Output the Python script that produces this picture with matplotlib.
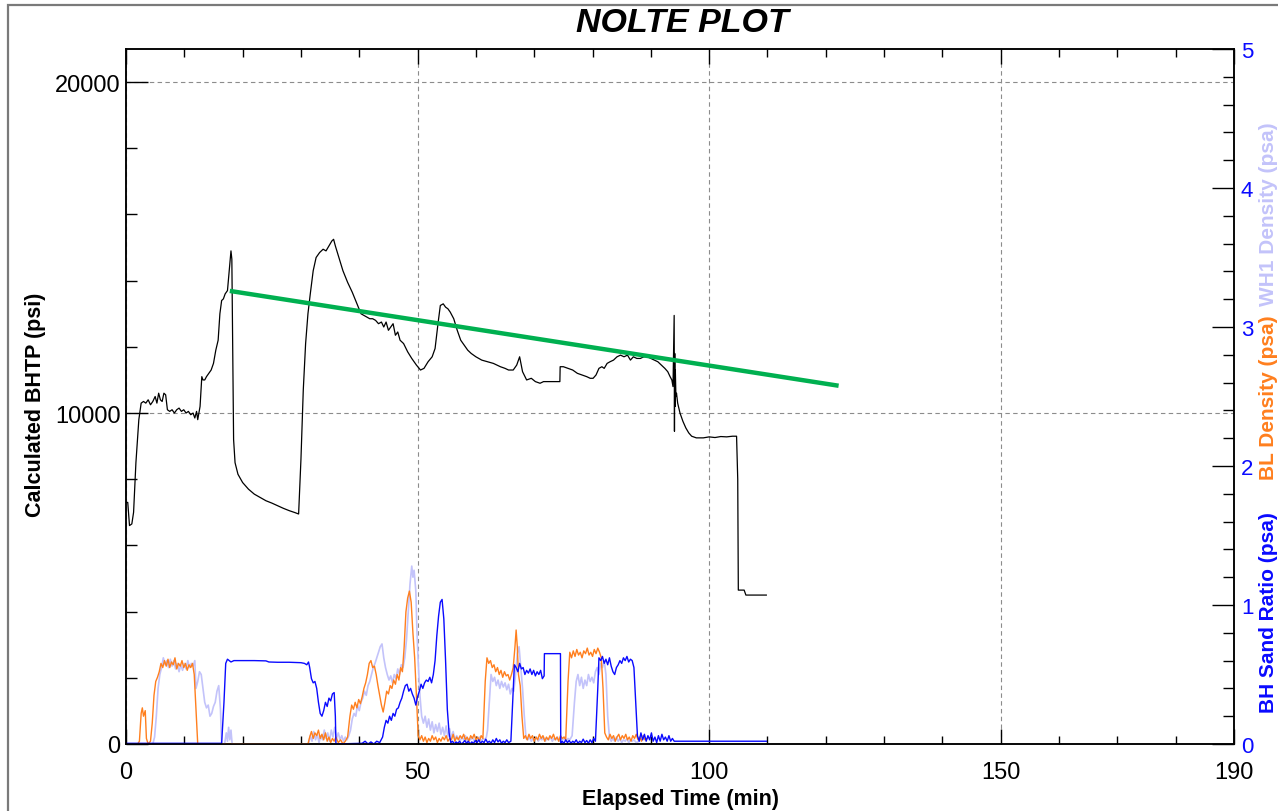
import matplotlib
matplotlib.use("Agg")
import matplotlib.pyplot as plt
from matplotlib.patches import Rectangle
from matplotlib.ticker import MultipleLocator, FixedLocator

plt.rcParams['font.family'] = ['Liberation Sans', 'DejaVu Sans']

# ---- data -------------------------------------------------------------
# Calculated bottom-hole treating pressure (min, psi)
bhtp = [
    (0.0, 7300), (0.3, 7300), (0.6, 6600), (1.0, 6650), (1.3, 7000), (1.7, 8500),
    (2.2, 9800), (2.6, 10300), (3.0, 10350), (3.4, 10300), (3.8, 10400), (4.2, 10250),
    (4.6, 10350), (5.0, 10500), (5.3, 10300), (5.6, 10600), (5.9, 10400), (6.2, 10350),
    (6.5, 10600), (6.8, 10550), (7.1, 10100), (7.5, 10050), (7.9, 10100), (8.3, 10000),
    (8.7, 10100), (9.1, 10150), (9.5, 10050), (9.9, 10100), (10.3, 10000), (10.7, 10050),
    (11.1, 9950), (11.5, 10000), (11.8, 9850), (12.1, 10050), (12.3, 9800), (12.5, 10000),
    (12.7, 10200), (13.0, 11100), (13.2, 11000), (13.5, 11000), (13.8, 11100), (14.2, 11200),
    (14.6, 11300), (15.0, 11500), (15.4, 11900), (15.8, 12200), (16.1, 13000), (16.4, 13400),
    (16.7, 13450), (17.0, 13600), (17.4, 13700), (17.7, 14300), (18.0, 14900), (18.15, 14650),
    (18.3, 12000), (18.45, 9200), (18.7, 8500), (19.2, 8150), (20.0, 7900), (21.0, 7700),
    (22.0, 7550), (23.0, 7450), (24.0, 7350), (25.0, 7280), (26.0, 7200), (27.0, 7120),
    (28.0, 7050), (29.0, 6990), (29.6, 6950), (30.0, 8600), (30.4, 10700), (30.8, 12100),
    (31.2, 13000), (31.6, 13600), (32.1, 14300), (32.6, 14700), (33.2, 14850), (33.8, 14950),
    (34.3, 14900), (34.8, 15050), (35.3, 15200), (35.6, 15250), (35.9, 15050), (36.5, 14700),
    (37.2, 14300), (38.0, 13950), (38.8, 13650), (39.6, 13300), (40.3, 13000), (40.8, 12950),
    (41.3, 12900), (41.8, 12850), (42.3, 12850), (42.8, 12800), (43.3, 12700), (43.8, 12750),
    (44.2, 12600), (44.6, 12750), (45.0, 12500), (45.4, 12600), (45.8, 12700), (46.2, 12350),
    (46.6, 12450), (47.0, 12200), (47.6, 12100), (48.3, 11850), (49.0, 11650), (49.8, 11450),
    (50.5, 11300), (51.1, 11350), (51.8, 11550), (52.5, 11700), (53.0, 11950), (53.5, 12700),
    (53.9, 13250), (54.4, 13300), (54.8, 13200), (55.2, 13150), (55.6, 13050), (56.2, 12850),
    (56.8, 12500), (57.4, 12200), (58.0, 12050), (58.6, 11900), (59.2, 11800), (60.0, 11700),
    (61.0, 11600), (62.0, 11550), (63.0, 11500), (63.6, 11450), (64.2, 11400), (65.0, 11350),
    (65.6, 11300), (66.4, 11300), (67.0, 11450), (67.5, 11700), (68.0, 11250), (68.7, 11000),
    (69.5, 11050), (70.2, 10950), (71.0, 10900), (71.6, 10950), (72.5, 10950), (73.5, 10950),
    (74.4, 10950), (74.45, 11400), (75.0, 11400), (75.8, 11350), (76.6, 11300), (77.4, 11200),
    (78.2, 11150), (79.0, 11100), (79.6, 11050), (80.1, 11050), (80.6, 11150), (81.1, 11350),
    (81.6, 11400), (82.0, 11350), (82.5, 11500), (83.0, 11550), (83.6, 11600), (84.2, 11700),
    (84.8, 11750), (85.4, 11700), (86.0, 11750), (86.5, 11600), (87.0, 11700), (87.6, 11650),
    (88.2, 11650), (88.8, 11700), (89.4, 11700), (90.0, 11650), (90.6, 11600), (91.2, 11550),
    (91.8, 11450), (92.4, 11350), (92.9, 11250), (93.3, 11100), (93.6, 11000), (93.8, 10800),
    (94.0, 12950), (94.05, 9450), (94.1, 11800), (94.15, 10200), (94.2, 11300), (94.3, 10500),
    (94.4, 10600), (94.6, 10300), (95.0, 10000), (95.5, 9750), (96.0, 9550), (96.5, 9400),
    (97.0, 9300), (97.8, 9250), (99.0, 9250), (100.0, 9280), (101.0, 9260), (102.0, 9290),
    (103.0, 9280), (104.0, 9300), (104.7, 9300), (104.9, 8000), (105.0, 4650), (105.5, 4650),
    (106.0, 4650), (106.3, 4500), (107.0, 4500), (109.8, 4500),
]

# Nolte trend line (min, psi)
trend = [(17.8, 13690), (122.2, 10825)]

# WH1 density (min, psa)
wh1_density = [
    (0.0, 0.0), (4.6, 0.0), (4.9, 0.05), (5.2, 0.2), (5.5, 0.4), (5.8, 0.5), (6.1, 0.55),
    (6.4, 0.62), (6.7, 0.57), (7.0, 0.6), (7.3, 0.55), (7.6, 0.61), (7.9, 0.56), (8.2, 0.6),
    (8.5, 0.54), (8.8, 0.58), (9.1, 0.52), (9.4, 0.57), (9.7, 0.53), (10.0, 0.58), (10.3, 0.54),
    (10.6, 0.6), (10.9, 0.55), (11.2, 0.58), (11.5, 0.56), (11.8, 0.6), (12.0, 0.4), (12.3, 0.45),
    (12.6, 0.52), (12.9, 0.5), (13.2, 0.4), (13.5, 0.3), (13.8, 0.26), (14.1, 0.28), (14.4, 0.2),
    (14.7, 0.22), (15.0, 0.27), (15.3, 0.3), (15.6, 0.38), (15.9, 0.42), (16.2, 0.25), (16.4, 0.0),
    (16.9, 0.0), (17.2, 0.08), (17.4, 0.02), (17.6, 0.12), (17.8, 0.03), (18.0, 0.1), (18.2, 0.0),
    (31.3, 0.0), (31.6, 0.06), (31.9, 0.02), (32.2, 0.09), (32.5, 0.03), (32.8, 0.07), (33.1, 0.01),
    (33.4, 0.06), (33.7, 0.03), (34.0, 0.1), (34.3, 0.04), (34.6, 0.08), (34.9, 0.02), (35.2, 0.1),
    (35.5, 0.05), (35.8, 0.12), (36.1, 0.04), (36.4, 0.08), (36.7, 0.03), (37.0, 0.06), (37.3, 0.02),
    (37.6, 0.05), (37.9, 0.03), (38.2, 0.06), (38.5, 0.1), (38.8, 0.18), (39.1, 0.22), (39.4, 0.2),
    (39.7, 0.28), (40.0, 0.24), (40.3, 0.3), (40.6, 0.33), (40.9, 0.38), (41.2, 0.35), (41.5, 0.42),
    (41.8, 0.45), (42.1, 0.5), (42.4, 0.55), (42.7, 0.58), (43.0, 0.62), (43.3, 0.66), (43.6, 0.7),
    (43.9, 0.72), (44.2, 0.62), (44.5, 0.55), (44.8, 0.5), (45.1, 0.46), (45.4, 0.49), (45.7, 0.44),
    (46.0, 0.5), (46.3, 0.47), (46.6, 0.54), (46.9, 0.5), (47.2, 0.57), (47.5, 0.55), (47.8, 0.62),
    (48.1, 0.75), (48.4, 0.95), (48.7, 1.15), (49.0, 1.28), (49.2, 1.2), (49.4, 1.25), (49.7, 1.1),
    (49.9, 0.8), (50.1, 0.6), (50.4, 0.35), (50.7, 0.2), (51.0, 0.15), (51.3, 0.2), (51.6, 0.12),
    (51.9, 0.18), (52.2, 0.1), (52.5, 0.16), (52.8, 0.08), (53.1, 0.14), (53.4, 0.09), (53.7, 0.15),
    (54.0, 0.07), (54.3, 0.12), (54.6, 0.06), (54.9, 0.13), (55.2, 0.05), (55.5, 0.11), (55.8, 0.04),
    (56.1, 0.09), (56.4, 0.03), (56.7, 0.06), (57.0, 0.04), (57.3, 0.02), (57.6, 0.05), (57.9, 0.03),
    (58.2, 0.06), (58.5, 0.02), (58.8, 0.04), (59.1, 0.03), (59.4, 0.05), (59.7, 0.02), (60.0, 0.04),
    (60.3, 0.03), (60.6, 0.05), (60.9, 0.02), (61.2, 0.04), (61.5, 0.03), (61.8, 0.05), (62.0, 0.1),
    (62.3, 0.3), (62.6, 0.5), (62.9, 0.45), (63.2, 0.48), (63.5, 0.42), (63.8, 0.46), (64.1, 0.4),
    (64.4, 0.45), (64.7, 0.41), (65.0, 0.44), (65.3, 0.39), (65.6, 0.43), (65.9, 0.36), (66.2, 0.4),
    (66.5, 0.38), (66.8, 0.5), (67.1, 0.65), (67.4, 0.7), (67.7, 0.55), (68.0, 0.4), (68.3, 0.2),
    (68.6, 0.04), (68.9, 0.03), (69.2, 0.05), (69.5, 0.02), (69.8, 0.04), (70.1, 0.03), (70.4, 0.05),
    (70.7, 0.02), (71.0, 0.04), (71.3, 0.03), (71.6, 0.05), (71.9, 0.02), (72.2, 0.04), (72.5, 0.03),
    (72.8, 0.05), (73.1, 0.02), (73.4, 0.04), (73.7, 0.03), (74.0, 0.05), (74.3, 0.02), (74.6, 0.04),
    (74.9, 0.03), (75.2, 0.05), (75.5, 0.02), (75.8, 0.04), (76.1, 0.03), (76.5, 0.06), (76.9, 0.3),
    (77.2, 0.45), (77.5, 0.5), (77.8, 0.42), (78.1, 0.48), (78.4, 0.4), (78.7, 0.46), (79.0, 0.42),
    (79.3, 0.5), (79.6, 0.45), (79.9, 0.48), (80.2, 0.44), (80.5, 0.52), (80.8, 0.55), (81.1, 0.5),
    (81.4, 0.58), (81.7, 0.55), (82.0, 0.6), (82.3, 0.5), (82.6, 0.2), (82.9, 0.05), (83.2, 0.02),
    (83.5, 0.04), (83.8, 0.02), (84.1, 0.05), (84.4, 0.02), (84.7, 0.04), (85.0, 0.01), (85.3, 0.03),
    (85.6, 0.02), (85.9, 0.04), (86.2, 0.01), (86.5, 0.03), (86.8, 0.02), (87.1, 0.03), (87.5, 0.01),
    (88.0, 0.02),
]

# BL density (min, psa)
bl_density = [
    (0.0, 0.0), (2.0, 0.0), (2.3, 0.02), (2.6, 0.22), (2.8, 0.26), (3.0, 0.2), (3.3, 0.24),
    (3.5, 0.04), (3.8, 0.0), (4.2, 0.02), (4.5, 0.15), (4.8, 0.35), (5.1, 0.45), (5.4, 0.48),
    (5.7, 0.52), (6.0, 0.58), (6.3, 0.55), (6.6, 0.6), (6.9, 0.56), (7.2, 0.61), (7.5, 0.55),
    (7.8, 0.59), (8.1, 0.57), (8.4, 0.62), (8.7, 0.54), (9.0, 0.58), (9.3, 0.56), (9.6, 0.6),
    (9.9, 0.55), (10.2, 0.58), (10.5, 0.53), (10.8, 0.57), (11.1, 0.55), (11.4, 0.58), (11.7, 0.5),
    (12.0, 0.25), (12.3, 0.0), (31.2, 0.0), (31.5, 0.05), (31.8, 0.09), (32.1, 0.04), (32.4, 0.08),
    (32.7, 0.06), (33.0, 0.1), (33.3, 0.04), (33.6, 0.07), (33.9, 0.03), (34.2, 0.08), (34.5, 0.02),
    (34.8, 0.05), (35.1, 0.01), (35.4, 0.04), (35.7, 0.02), (36.0, 0.05), (36.4, 0.01), (36.8, 0.03),
    (37.2, 0.0), (37.6, 0.02), (38.0, 0.05), (38.4, 0.2), (38.7, 0.28), (39.0, 0.25), (39.3, 0.3),
    (39.6, 0.26), (39.9, 0.32), (40.2, 0.29), (40.5, 0.34), (40.8, 0.4), (41.1, 0.44), (41.4, 0.5),
    (41.7, 0.58), (42.0, 0.6), (42.3, 0.55), (42.6, 0.56), (42.9, 0.5), (43.2, 0.42), (43.5, 0.35),
    (43.8, 0.28), (44.1, 0.23), (44.4, 0.3), (44.7, 0.38), (45.0, 0.36), (45.3, 0.42), (45.6, 0.4),
    (45.9, 0.46), (46.2, 0.43), (46.5, 0.5), (46.8, 0.46), (47.1, 0.55), (47.4, 0.52), (47.7, 0.7),
    (48.0, 0.95), (48.3, 1.05), (48.6, 1.1), (48.9, 1.02), (49.2, 0.8), (49.5, 0.62), (49.8, 0.35),
    (50.1, 0.06), (50.4, 0.03), (50.7, 0.06), (51.0, 0.02), (51.3, 0.05), (51.6, 0.01), (51.9, 0.04),
    (52.2, 0.02), (52.5, 0.06), (52.8, 0.03), (53.1, 0.05), (53.4, 0.01), (53.7, 0.04), (54.0, 0.02),
    (54.3, 0.05), (54.6, 0.03), (54.9, 0.06), (55.2, 0.02), (55.5, 0.04), (55.8, 0.03), (56.1, 0.07),
    (56.4, 0.02), (56.7, 0.05), (57.0, 0.03), (57.3, 0.06), (57.6, 0.04), (57.9, 0.07), (58.2, 0.03),
    (58.5, 0.05), (58.8, 0.02), (59.1, 0.06), (59.4, 0.04), (59.7, 0.07), (60.0, 0.03), (60.3, 0.05),
    (60.6, 0.02), (60.9, 0.06), (61.2, 0.04), (61.6, 0.45), (61.9, 0.62), (62.2, 0.58), (62.5, 0.6),
    (62.8, 0.55), (63.1, 0.57), (63.4, 0.52), (63.7, 0.55), (64.0, 0.5), (64.3, 0.53), (64.6, 0.48),
    (64.9, 0.52), (65.2, 0.49), (65.5, 0.5), (65.8, 0.46), (66.1, 0.5), (66.4, 0.55), (66.7, 0.7),
    (66.9, 0.82), (67.1, 0.7), (67.3, 0.5), (67.6, 0.42), (67.9, 0.2), (68.2, 0.04), (68.5, 0.06),
    (68.8, 0.03), (69.1, 0.07), (69.4, 0.04), (69.7, 0.06), (70.0, 0.02), (70.3, 0.05), (70.6, 0.03),
    (70.9, 0.07), (71.2, 0.04), (71.5, 0.06), (71.8, 0.02), (72.1, 0.05), (72.4, 0.03), (72.7, 0.06),
    (73.0, 0.04), (73.3, 0.07), (73.6, 0.03), (73.9, 0.05), (74.2, 0.02), (74.5, 0.06), (74.8, 0.04),
    (75.1, 0.05), (75.4, 0.03), (75.8, 0.45), (76.1, 0.66), (76.4, 0.62), (76.7, 0.67), (77.0, 0.63),
    (77.3, 0.68), (77.6, 0.64), (77.9, 0.66), (78.2, 0.62), (78.5, 0.67), (78.8, 0.65), (79.1, 0.69),
    (79.4, 0.64), (79.7, 0.66), (80.0, 0.63), (80.3, 0.68), (80.6, 0.65), (80.9, 0.69), (81.2, 0.66),
    (81.5, 0.62), (81.8, 0.4), (82.1, 0.08), (82.4, 0.05), (82.7, 0.03), (83.0, 0.07), (83.3, 0.04),
    (83.6, 0.06), (83.9, 0.02), (84.2, 0.05), (84.5, 0.07), (84.8, 0.03), (85.1, 0.06), (85.4, 0.04),
    (85.7, 0.07), (86.0, 0.03), (86.3, 0.05), (86.6, 0.02), (86.9, 0.06), (87.2, 0.04), (87.5, 0.07),
    (87.8, 0.03), (88.1, 0.05), (88.4, 0.02), (88.7, 0.06), (89.0, 0.03), (89.4, 0.04),
]

# BH sand ratio (min, psa)
sand_ratio = [
    (0.0, 0.005), (16.4, 0.005), (16.8, 0.3), (17.1, 0.58), (17.4, 0.61), (17.7, 0.6), (18.0, 0.59),
    (18.5, 0.6), (20.0, 0.6), (22.0, 0.6), (24.0, 0.598), (24.5, 0.59), (26.0, 0.588), (28.0, 0.588),
    (30.0, 0.585), (30.6, 0.58), (31.0, 0.57), (31.3, 0.59), (31.5, 0.55), (31.8, 0.47), (32.1, 0.44),
    (32.4, 0.45), (32.7, 0.4), (33.0, 0.3), (33.3, 0.22), (33.6, 0.2), (33.9, 0.24), (34.2, 0.3),
    (34.5, 0.27), (34.8, 0.33), (35.1, 0.31), (35.4, 0.36), (35.7, 0.37), (35.9, 0.2), (36.0, 0.0),
    (40.5, 0.005), (41.0, 0.02), (41.5, 0.0), (42.0, 0.015), (42.5, 0.0), (43.0, 0.02), (43.5, 0.01),
    (44.0, 0.05), (44.3, 0.12), (44.6, 0.17), (44.9, 0.15), (45.2, 0.2), (45.5, 0.17), (45.8, 0.22),
    (46.1, 0.2), (46.4, 0.25), (46.7, 0.26), (47.0, 0.3), (47.3, 0.33), (47.6, 0.38), (47.9, 0.42),
    (48.2, 0.43), (48.5, 0.38), (48.8, 0.4), (49.1, 0.36), (49.4, 0.33), (49.7, 0.28), (50.0, 0.34),
    (50.3, 0.38), (50.6, 0.43), (50.9, 0.4), (51.2, 0.44), (51.5, 0.46), (51.8, 0.45), (52.1, 0.48),
    (52.4, 0.44), (52.7, 0.5), (53.0, 0.6), (53.3, 0.78), (53.6, 0.92), (53.9, 1.02), (54.2, 1.04),
    (54.5, 0.9), (54.8, 0.6), (55.1, 0.25), (55.4, 0.08), (55.7, 0.01), (56.0, 0.02), (56.3, 0.0),
    (56.6, 0.015), (56.9, 0.005), (57.2, 0.02), (57.5, 0.0), (57.8, 0.01), (58.1, 0.025), (58.4, 0.005),
    (58.7, 0.02), (59.0, 0.0), (59.3, 0.015), (59.6, 0.005), (59.9, 0.025), (60.2, 0.01), (60.5, 0.03),
    (60.8, 0.005), (61.1, 0.02), (61.4, 0.01), (61.7, 0.035), (62.0, 0.01), (62.3, 0.02), (62.6, 0.005),
    (62.9, 0.03), (63.2, 0.01), (63.5, 0.04), (63.8, 0.015), (64.1, 0.03), (64.4, 0.005), (64.7, 0.02),
    (65.0, 0.01), (65.3, 0.03), (65.6, 0.01), (66.0, 0.02), (66.3, 0.3), (66.6, 0.57), (66.9, 0.55),
    (67.2, 0.52), (67.5, 0.58), (67.8, 0.54), (68.1, 0.55), (68.4, 0.5), (68.7, 0.53), (69.0, 0.51),
    (69.3, 0.54), (69.6, 0.5), (69.9, 0.53), (70.2, 0.49), (70.5, 0.52), (70.8, 0.5), (71.1, 0.53),
    (71.4, 0.47), (71.7, 0.49), (71.75, 0.65), (74.5, 0.65), (74.55, 0.0), (74.8, 0.02), (75.1, 0.005),
    (75.4, 0.03), (75.7, 0.01), (76.0, 0.025), (76.3, 0.005), (76.6, 0.02), (76.9, 0.01), (77.2, 0.03),
    (77.5, 0.005), (77.8, 0.02), (78.1, 0.01), (78.4, 0.035), (78.7, 0.01), (79.0, 0.025), (79.3, 0.005),
    (79.6, 0.03), (79.9, 0.01), (80.2, 0.04), (80.5, 0.02), (80.9, 0.4), (81.1, 0.62), (81.4, 0.6),
    (81.7, 0.63), (82.0, 0.58), (82.3, 0.61), (82.6, 0.57), (82.9, 0.62), (83.2, 0.56), (83.5, 0.52),
    (83.8, 0.5), (84.1, 0.55), (84.4, 0.57), (84.7, 0.6), (85.0, 0.58), (85.3, 0.62), (85.6, 0.6),
    (85.9, 0.63), (86.2, 0.59), (86.5, 0.61), (86.8, 0.6), (87.1, 0.55), (87.4, 0.3), (87.7, 0.06),
    (88.0, 0.02), (88.3, 0.08), (88.6, 0.03), (88.9, 0.07), (89.2, 0.02), (89.5, 0.06), (89.8, 0.03),
    (90.1, 0.08), (90.4, 0.02), (90.7, 0.05), (91.0, 0.01), (91.3, 0.06), (91.6, 0.02), (91.9, 0.07),
    (92.2, 0.03), (92.5, 0.05), (92.8, 0.02), (93.1, 0.06), (93.4, 0.02), (93.7, 0.04), (94.0, 0.02),
    (109.8, 0.02),
]

x_ticks = [0, 50, 100, 150, 190]
left_ticks = [0, 10000, 20000]
right_ticks = [0, 1, 2, 3, 4, 5]

# ---- styling ----------------------------------------------------------
BLUE = '#0a0aff'
ORANGE = '#ff7f1e'
LAVENDER = '#c3c3fa'
GREEN = '#00b050'

fig = plt.figure(figsize=(12.78, 8.12), dpi=100)
ax = fig.add_axes([126 / 1278, 1 - 745 / 812, (1234 - 126) / 1278, (745 - 50) / 812])
ax2 = ax.twinx()

# outer frame
fig.patches.append(Rectangle((8 / 1278, -0.2), 1.3, 1.2 - 6 / 812, transform=fig.transFigure,
                             fill=False, edgecolor='#7a7a7a', linewidth=1.6, clip_on=False))

def xy(pairs):
    return [p[0] for p in pairs], [p[1] for p in pairs]

t, v = xy(bhtp)
ax.plot(t, v, color='black', lw=0.9, zorder=3)
t, v = xy(trend)
ax.plot(t, v, color=GREEN, lw=3.2, solid_capstyle='butt', zorder=4)

t, v = xy(wh1_density)
ax2.plot(t, v, color=LAVENDER, lw=1.2)
t, v = xy(bl_density)
ax2.plot(t, v, color=ORANGE, lw=1.0)
t, v = xy(sand_ratio)
ax2.plot(t, v, color=BLUE, lw=1.0)

ax.set_xlim(0, 190)
ax.set_ylim(0, 21000)
ax2.set_ylim(0, 5)

ax.xaxis.set_major_locator(FixedLocator(x_ticks))
ax.xaxis.set_minor_locator(MultipleLocator(10))
ax.yaxis.set_major_locator(FixedLocator(left_ticks))
ax.yaxis.set_minor_locator(MultipleLocator(2000))
ax2.yaxis.set_major_locator(FixedLocator(right_ticks))
ax2.yaxis.set_minor_locator(MultipleLocator(0.2))

ax.grid(True, which='major', color='#8c8c8c', linestyle=(0, (4, 3)), linewidth=0.8)
ax.set_axisbelow(True)

ax.tick_params(axis='x', which='both', direction='in', top=True, bottom=True,
               labelsize=17, pad=12, colors='black', width=1.0)
ax.tick_params(axis='x', which='major', length=11)
ax.tick_params(axis='x', which='minor', length=5.5)
ax.tick_params(axis='y', which='both', direction='in', left=True, right=False,
               labelsize=17, pad=4, width=1.0)
ax.tick_params(axis='y', which='major', length=16)
ax.tick_params(axis='y', which='minor', length=8)
ax2.tick_params(axis='y', which='both', direction='in', right=True, labelsize=16,
                pad=5, labelcolor=BLUE, width=1.0)
ax2.tick_params(axis='y', which='major', length=16)
ax2.tick_params(axis='y', which='minor', length=8)

for a in (ax, ax2):
    for s in a.spines.values():
        s.set_linewidth(1.1)

ax.set_xlabel('Elapsed Time (min)', fontsize=15.5, fontweight='bold', labelpad=4)
ax.set_ylabel('Calculated BHTP (psi)', fontsize=15.5, fontweight='bold')
ax.yaxis.set_label_coords((46 - 126) / 1108, (745 - 405) / 695)

fig.text(0.5 * (126 + 1234) / 1278 + 2 / 1278, 1 - 32 / 812, 'NOLTE PLOT', ha='center',
         va='baseline', fontsize=24.5, fontweight='bold', fontstyle='italic')

# right-hand axis titles, stacked bottom to top
rx = 1268 / 1278
fig.text(rx, 1 - 713 / 812, 'BH Sand Ratio (psa)', rotation=90, ha='center', va='bottom',
         fontsize=15, fontweight='bold', color=BLUE)
fig.text(rx, 1 - 480 / 812, 'BL Density (psa)', rotation=90, ha='center', va='bottom',
         fontsize=15, fontweight='bold', color=ORANGE)
fig.text(rx, 1 - 306 / 812, 'WH1 Density (psa)', rotation=90, ha='center', va='bottom',
         fontsize=15, fontweight='bold', color=LAVENDER)

fig.savefig('out.png', dpi=100)
